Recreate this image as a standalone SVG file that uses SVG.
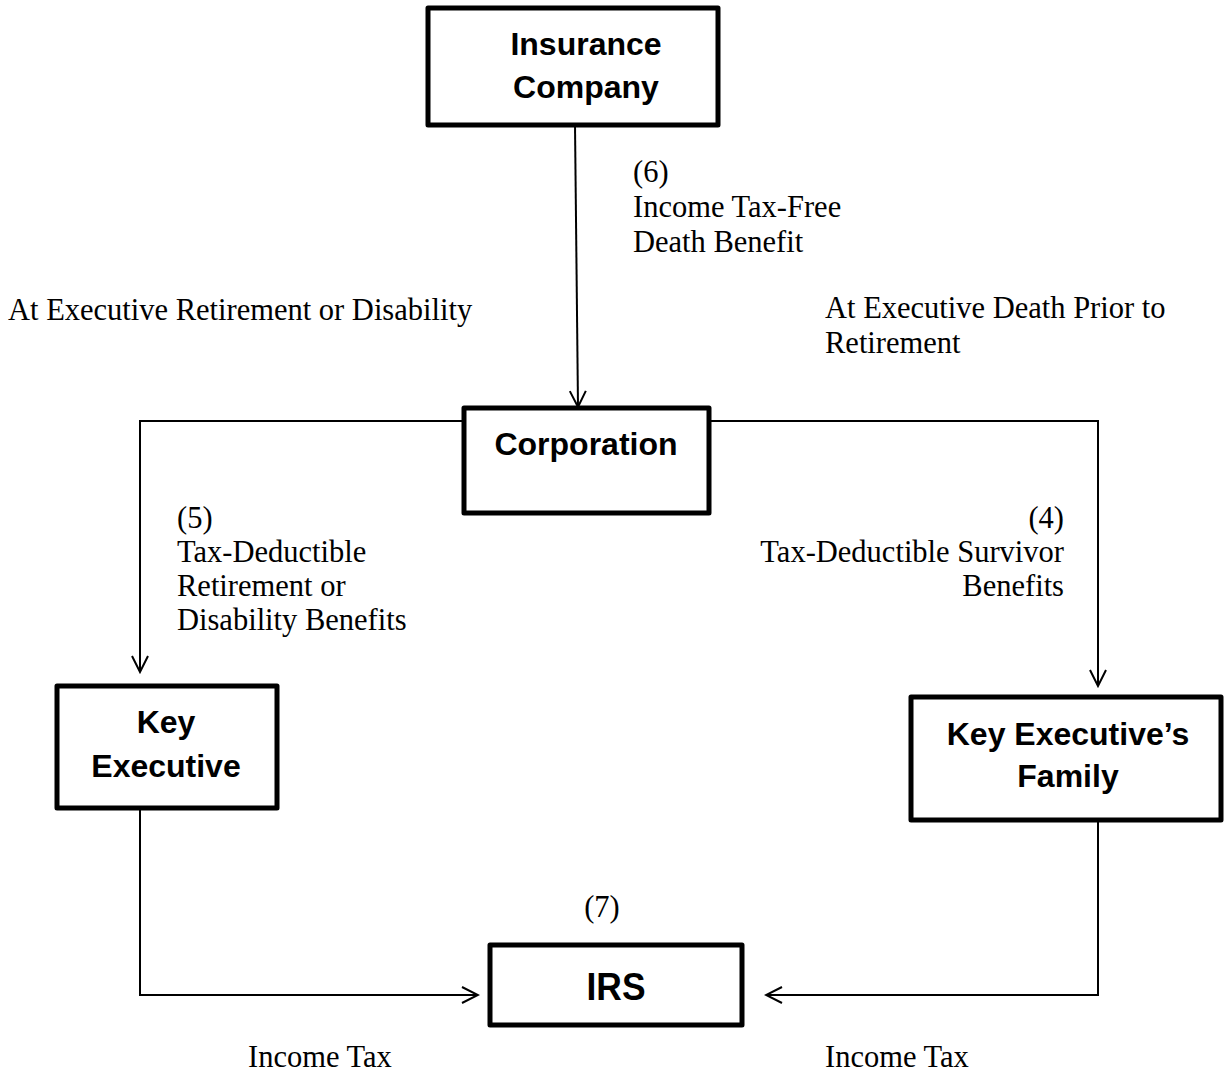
<svg xmlns="http://www.w3.org/2000/svg" width="1225" height="1076" viewBox="0 0 1225 1076">
<style>
.box{fill:#fff;stroke:#000;stroke-width:5;stroke-linejoin:round}
.lbl{font-family:"Liberation Sans",Arial,sans-serif;font-weight:bold;font-size:32px;fill:#000;text-anchor:middle}
.txt{font-family:"Liberation Serif","Times New Roman",serif;font-size:30.5px;fill:#000}
.conn{fill:none;stroke:#000;stroke-width:2}
</style>
<defs>
<marker id="arr" viewBox="0 0 20 20" refX="18" refY="10" markerWidth="20" markerHeight="20" markerUnits="userSpaceOnUse" orient="auto">
<path d="M2,2 L18,10 L2,18" fill="none" stroke="#000" stroke-width="2"/>
</marker>
</defs>
<rect width="1225" height="1076" fill="#fff"/>
<g id="connectors">
<path class="conn" d="M575,125 L578,407" marker-end="url(#arr)"/>
<path class="conn" d="M463,421 L140,421 L140,672" marker-end="url(#arr)"/>
<path class="conn" d="M709,421 L1098,421 L1098,686" marker-end="url(#arr)"/>
<path class="conn" d="M140,808 L140,995 L478,995" marker-end="url(#arr)"/>
<path class="conn" d="M1098,820 L1098,995 L766,995" marker-end="url(#arr)"/>
</g>
<g id="insurance">
<rect class="box" x="428" y="8" width="290" height="117"/>
<text class="lbl" x="586" y="55">Insurance</text>
<text class="lbl" x="586" y="98">Company</text>
</g>
<g id="corporation">
<rect class="box" x="464" y="408" width="245" height="105"/>
<text class="lbl" x="586" y="455">Corporation</text>
</g>
<g id="keyexec">
<rect class="box" x="57" y="686" width="220" height="122"/>
<text class="lbl" x="166" y="733">Key</text>
<text class="lbl" x="166" y="777">Executive</text>
</g>
<g id="family">
<rect class="box" x="911" y="697" width="310" height="123"/>
<text class="lbl" x="1068" y="745">Key Executive’s</text>
<text class="lbl" x="1068" y="787">Family</text>
</g>
<g id="irs">
<rect class="box" x="490" y="945" width="252" height="80"/>
<text class="lbl" x="616" y="1000" style="font-size:38px" textLength="59" lengthAdjust="spacingAndGlyphs">IRS</text>
</g>
<g id="labels">
<text class="txt" x="633" y="182">(6)</text>
<text class="txt" x="633" y="217">Income Tax-Free</text>
<text class="txt" x="633" y="252">Death Benefit</text>
<text class="txt" x="8" y="320">At Executive Retirement or Disability</text>
<text class="txt" x="825" y="318">At Executive Death Prior to</text>
<text class="txt" x="825" y="353">Retirement</text>
<text class="txt" x="177" y="528">(5)</text>
<text class="txt" x="177" y="562">Tax-Deductible</text>
<text class="txt" x="177" y="596">Retirement or</text>
<text class="txt" x="177" y="630">Disability Benefits</text>
<text class="txt" x="1064" y="528" text-anchor="end">(4)</text>
<text class="txt" x="1064" y="562" text-anchor="end">Tax-Deductible Survivor</text>
<text class="txt" x="1064" y="596" text-anchor="end">Benefits</text>
<text class="txt" x="602" y="917" text-anchor="middle">(7)</text>
<text class="txt" x="248" y="1067">Income Tax</text>
<text class="txt" x="825" y="1067">Income Tax</text>
</g>
</svg>
